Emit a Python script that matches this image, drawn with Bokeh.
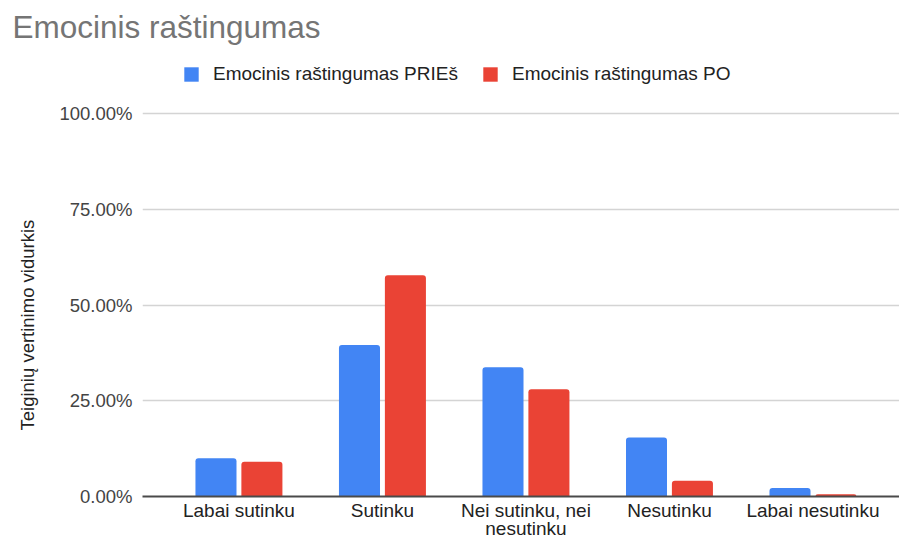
from bokeh.plotting import figure
from bokeh.models import (Range1d, FixedTicker, NumeralTickFormatter, Title,
                          Legend, LegendItem, ColumnDataSource)
from bokeh.embed import file_html
from bokeh.resources import INLINE

# --- data -----------------------------------------------------------------
categories = ["Labai sutinku", "Sutinku", "Nei sutinku, nei nesutinku",
              "Nesutinku", "Labai nesutinku"]
pries = [10.0, 39.6, 33.8, 15.4, 2.2]   # % before
po = [9.1, 57.8, 28.0, 4.1, 0.6]        # % after
y_ticks = [0.0, 0.25, 0.5, 0.75, 1.0]
series_names = ["Emocinis raštingumas PRIEš", "Emocinis raštingumas PO"]
title_text = "Emocinis raštingumas"
y_title = "Teiginių vertinimo vidurkis"

BLUE = "#4285F4"
RED = "#EA4335"
FONT = "Liberation Sans"
LABEL_WRAP = 17  # characters per line of a category label


def wrap(label, width=LABEL_WRAP):
    """Break a label into lines no longer than `width` characters."""
    lines, cur = [], ""
    for word in label.split(" "):
        cand = (cur + " " + word).strip()
        if len(cand) > width and cur:
            lines.append(cur)
            cur = word
        else:
            cur = cand
    lines.append(cur)
    return "\n".join(lines)


xs = list(range(len(categories)))

src = ColumnDataSource(dict(
    x_pries=[x - 0.160 for x in xs],
    x_po=[x + 0.160 for x in xs],
    pries=[v / 100 for v in pries],
    po=[v / 100 for v in po],
))

p = figure(width=899, height=541, output_backend="svg", toolbar_location=None,
           x_range=Range1d(-0.672, 4.603), y_range=Range1d(0, 1.1654),
           min_border_left=142, min_border_right=0, min_border_top=50,
           min_border_bottom=45)
p.outline_line_color = None
p.background_fill_color = "white"
p.border_fill_color = "white"

# main title, shifted left over the axis area
p.title.text = title_text
p.title.align = "left"
p.title.offset = -130
p.title.text_font = FONT
p.title.text_font_size = "31.5px"
p.title.text_font_style = "normal"
p.title.text_color = "#757575"
p.title.standoff = 11

r1 = p.vbar(x="x_pries", top="pries", bottom=0, width=0.286, source=src,
            fill_color=BLUE, line_color=None, border_radius=(3, 3, 0, 0))
r2 = p.vbar(x="x_po", top="po", bottom=0, width=0.286, source=src,
            fill_color=RED, line_color=None, border_radius=(3, 3, 0, 0))

# grid
p.xgrid.grid_line_color = None
p.ygrid.ticker = FixedTicker(ticks=y_ticks)
p.ygrid.grid_line_color = "#d4d4d4"
p.ygrid.grid_line_width = 1.5

# y axis
ya = p.yaxis[0]
ya.ticker = FixedTicker(ticks=y_ticks)
ya.formatter = NumeralTickFormatter(format="0.00%")
ya.axis_line_color = None
ya.major_tick_line_color = None
ya.minor_tick_line_color = None
ya.major_tick_out = 0
ya.major_tick_in = 0
ya.major_label_standoff = 10
ya.major_label_text_font = FONT
ya.major_label_text_font_size = "18.5px"
ya.major_label_text_color = "#444444"

# vertical axis title, in the left margin
p.add_layout(Title(text=y_title, align="left", offset=66,
                   vertical_align="top", standoff=33, text_font=FONT,
                   text_font_size="18.5px", text_font_style="normal",
                   text_color="#222222"), "left")

# x axis with wrapped category labels
xa = p.xaxis[0]
xa.ticker = FixedTicker(ticks=xs)
xa.major_label_overrides = {i: wrap(c) for i, c in enumerate(categories)}
xa.axis_line_color = "#4a4a4a"
xa.axis_line_width = 2
xa.major_tick_line_color = None
xa.minor_tick_line_color = None
xa.major_tick_out = 0
xa.major_tick_in = 0
xa.major_label_standoff = 3
xa.major_label_text_font = FONT
xa.major_label_text_font_size = "19px"
xa.major_label_text_line_height = 0.88
xa.major_label_text_color = "#222222"

legend = Legend(items=[LegendItem(label=series_names[0], renderers=[r1]),
                       LegendItem(label=series_names[1], renderers=[r2])],
                orientation="horizontal", location=(40, 411),
                padding=0, margin=0, spacing=23, label_standoff=13,
                glyph_width=18, glyph_height=18, label_height=18,
                label_text_font=FONT, label_text_font_size="19px",
                label_text_color="#222222", border_line_color=None,
                background_fill_alpha=0)
p.add_layout(legend, "center")

open("out.html", "w").write(file_html(p, INLINE))
